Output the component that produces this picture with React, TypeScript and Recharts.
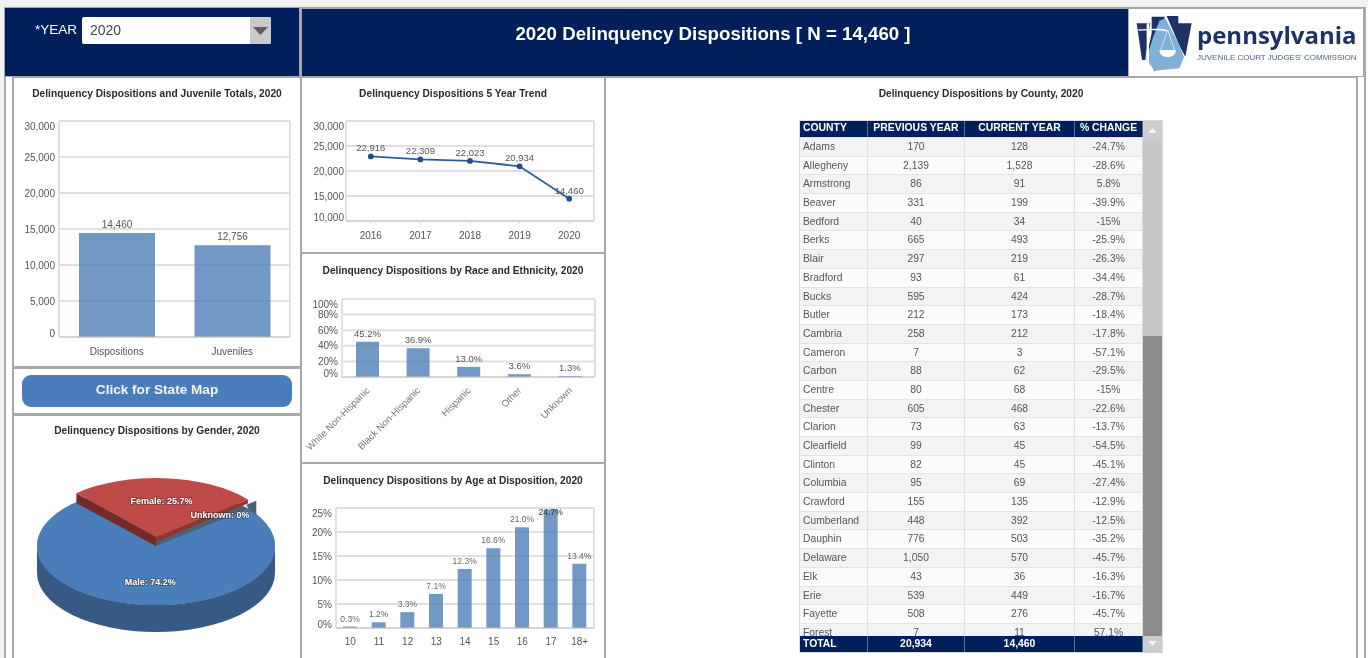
import React from "react";
import { BarChart, Bar, LineChart, Line, PieChart, Pie, XAxis, YAxis, CartesianGrid, LabelList } from "recharts";

const totalsCats = ["Dispositions", "Juveniles"];
const totalsVals = [14460, 12756];
const trendYears = ["2016", "2017", "2018", "2019", "2020"];
const trendVals = [22916, 22309, 22023, 20934, 14460];
const raceCats = ["White Non-Hispanic", "Black Non-Hispanic", "Hispanic", "Other", "Unknown"];
const raceVals = [45.2, 36.9, 13.0, 3.6, 1.3];
const ageCats = ["10", "11", "12", "13", "14", "15", "16", "17", "18+"];
const ageVals = [0.3, 1.2, 3.3, 7.1, 12.3, 16.6, 21.0, 24.7, 13.4];
const genderNames = ["Male", "Unknown", "Female"];
const genderVals = [74.2, 0.1, 25.7];
const genderLabels = ["74.2%", "0%", "25.7%"];
const counties = ["Adams","Allegheny","Armstrong","Beaver","Bedford","Berks","Blair","Bradford","Bucks","Butler","Cambria","Cameron","Carbon","Centre","Chester","Clarion","Clearfield","Clinton","Columbia","Crawford","Cumberland","Dauphin","Delaware","Elk","Erie","Fayette","Forest"];
const prevYear = ["170","2,139","86","331","40","665","297","93","595","212","258","7","88","80","605","73","99","82","95","155","448","776","1,050","43","539","508","7"];
const currYear = ["128","1,528","91","199","34","493","219","61","424","173","212","3","62","68","468","63","45","45","69","135","392","503","570","36","449","276","11"];
const pctChange = ["-24.7%","-28.6%","5.8%","-39.9%","-15%","-25.9%","-26.3%","-34.4%","-28.7%","-18.4%","-17.8%","-57.1%","-29.5%","-15%","-22.6%","-13.7%","-54.5%","-45.1%","-27.4%","-12.9%","-12.5%","-35.2%","-45.7%","-16.3%","-16.7%","-45.7%","57.1%"];
const headers = ["COUNTY", "PREVIOUS YEAR", "CURRENT YEAR", "% CHANGE"];
const totals = ["TOTAL", "20,934", "14,460", ""];

const FONT = "'Liberation Sans', Arial, sans-serif";
const NAVY = "#001f5b";
const BORDER = "#a8a8a8";
const BAR = "#4a7cb6";
const BAR_OP = 0.78;
const GRID = "#e0e0e0";
const colW = [68, 97, 110, 68];

const pct = (v: number) => v.toFixed(1) + "%";
const num = (v: number) => v.toLocaleString("en-US");

const box = (l: number, t: number, w: number, h: number): React.CSSProperties => ({ position: "absolute", left: l, top: t, width: w, height: h });

const frameLines = ({ offset }: any) => [offset.left, offset.left + offset.width];

function yTick(fmt: (v: number) => string, min: number, max: number, gap: number, fs = 10) {
  return (p: any) => {
    const v = p.payload.value;
    const dy = v === max ? 9 : v === min ? 0 : 3.5;
    return <text x={p.x + 8 - gap} y={p.y + dy} textAnchor="end" fontSize={fs} fill="#555" fontFamily={FONT}>{fmt(v)}</text>;
  };
}

function Title({ x, y, w, text }: { x: number; y: number; w: number; text: string }) {
  return <div style={{ position: "absolute", left: x, top: y, width: w, textAlign: "center", font: `bold 10.2px ${FONT}`, color: "#2a2a2a", lineHeight: "12px", whiteSpace: "nowrap" }}>{text}</div>;
}

const RaceTick = (p: any) => (
  <text transform={`translate(${p.x + 3},${p.y + 6}) rotate(-45)`} textAnchor="end" fontSize={9.6} fill="#777" fontFamily={FONT}>{p.payload.value}</text>
);

const AgeLabel = (p: any) => {
  const { x, y, width, value } = p;
  const ty = Math.max(y - 5, 51);
  return <text x={x + width / 2} y={ty} textAnchor="middle" fontSize={8.5} fill={ty !== y - 5 ? "#333" : "#666"} fontFamily={FONT}>{pct(value)}</text>;
};

const K = 0.496;
const pt = (cx: number, cy: number, r: number, deg: number) => {
  const a = (deg * Math.PI) / 180;
  return [cx + r * Math.cos(a), cy - r * K * Math.sin(a)];
};

const PieShape = (p: any) => {
  const { cx, cy, outerRadius: R, startAngle, endAngle, name } = p;
  const large = Math.abs(endAngle - startAngle) > 180 ? 1 : 0;
  const top = (ox: number, oy: number) => {
    const a = pt(cx + ox, cy + oy, R, startAngle);
    const b = pt(cx + ox, cy + oy, R, endAngle);
    return `M${cx + ox},${cy + oy} L${a[0]},${a[1]} A${R},${R * K} 0 ${large} 0 ${b[0]},${b[1]} Z`;
  };
  if (name === "Male") {
    const D = 27;
    return (
      <g>
        <path d={`M${cx - R},${cy} A${R},${R * K} 0 0 0 ${cx + R},${cy} L${cx + R},${cy + D} A${R},${R * K} 0 0 1 ${cx - R},${cy + D} Z`} fill="#375a85" />
        <ellipse cx={cx} cy={cy} rx={R} ry={R * K} fill="#4b6272" />
        <path d={top(0, 0)} fill="#4a7ebb" />
      </g>
    );
  }
  if (name === "Unknown") {
    const a = pt(cx + 8, cy - 8, R, startAngle);
    return <path d={`M${a[0] - 10},${a[1] + 4} L${a[0]},${a[1]} L${a[0]},${a[1] + 15} L${a[0] - 8},${a[1] + 8} Z`} fill="#4b6272" />;
  }
  const ox = 0, oy = -9;
  const a = pt(cx + ox, cy + oy, R, startAngle);
  const b = pt(cx + ox, cy + oy, R, endAngle);
  const ax = cx + ox, ay = cy + oy;
  return (
    <g>
      <path d={`M${ax},${ay} L${a[0]},${a[1]} L${a[0]},${a[1] + 4} L${ax},${ay + 5} Z`} fill="#8f3431" />
      <path d={`M${ax},${ay} L${b[0]},${b[1]} L${b[0]},${b[1] + 10} L${ax},${ay + 9} Z`} fill="#752a2a" />
      <path d={top(ox, oy)} fill="#be4b48" />
    </g>
  );
};

const PieLabel = (p: any) => {
  const { cx, cy, outerRadius: R, midAngle, index } = p;
  const frac = index === 1 ? 0.76 : 0.62;
  const oy = index === 2 ? -9 : index === 1 ? 1 : 0;
  const q = pt(cx, cy + oy, R * frac, index === 1 ? 45 : midAngle);
  return (
    <text x={q[0]} y={q[1] + 3} textAnchor="middle" fontSize={9} fontWeight="bold" fill="#fff" fontFamily={FONT}
      stroke="rgba(40,40,40,0.45)" strokeWidth={1.6} paintOrder="stroke">{genderNames[index]}: {genderLabels[index]}</text>
  );
};

const totalsData = totalsCats.map((name, i) => ({ name, value: totalsVals[i] }));
const trendData = trendYears.map((name, i) => ({ name, value: trendVals[i] }));
const raceData = raceCats.map((name, i) => ({ name, value: raceVals[i] }));
const ageData = ageCats.map((name, i) => ({ name, value: ageVals[i] }));
const genderData = genderNames.map((name, i) => ({ name, value: genderVals[i] }));

function Row({ cells, style, first }: { cells: string[]; style: React.CSSProperties; first?: boolean }) {
  return (
    <div style={{ display: "flex", ...style }}>
      {cells.map((c, i) => (
        <div key={i} style={{ width: colW[i], boxSizing: "border-box", borderRight: "1px solid " + (first ? "#5a6f98" : "#dedede"), textAlign: i === 0 ? "left" : "center", paddingLeft: i === 0 ? 3 : 0, whiteSpace: "nowrap", overflow: "hidden" }}>{c}</div>
      ))}
    </div>
  );
}

function CountyTable() {
  const width = colW.reduce((a, b) => a + b, 0);
  return (
    <>
      <div style={{ ...box(799, 120, 364, 533), background: "#dcdcdc" }} />
      <Row first cells={headers} style={{ ...box(800, 121, width, 16), background: NAVY, color: "#fff", font: `bold 10.4px ${FONT}`, lineHeight: "14px" }} />
      <div style={{ ...box(800, 138, width, 498), overflow: "hidden", background: "#fff" }}>
        {counties.map((c, i) => (
          <Row key={c} cells={[c, prevYear[i], currYear[i], pctChange[i]]}
            style={{ height: 18.69, boxSizing: "border-box", borderBottom: "1px solid #e4e4e4", background: i % 2 ? "#fbfbfb" : "#f3f3f3", color: "#555", font: `10.3px ${FONT}`, lineHeight: "17px" }} />
        ))}
      </div>
      <Row first cells={totals} style={{ ...box(800, 636, width, 16), background: NAVY, color: "#fff", font: `bold 10.4px ${FONT}`, lineHeight: "15px" }} />
      <div style={{ ...box(1143, 121, 19, 19), background: "#cdcdcd" }}>
        <svg width="19" height="19"><polygon points="5,12 14,12 9.5,7" fill="#f4f4f4" /></svg>
      </div>
      <div style={{ ...box(1143, 140, 19, 196), background: "#c8c8c8" }} />
      <div style={{ ...box(1143, 336, 19, 300), background: "#8b8b8b" }} />
      <div style={{ ...box(1143, 636, 19, 17), background: "#cdcdcd" }}>
        <svg width="19" height="17"><polygon points="5,5 14,5 9.5,10" fill="#f4f4f4" /></svg>
      </div>
    </>
  );
}

function Logo() {
  return (
    <svg style={{ position: "absolute", left: 1129, top: 9, overflow: "visible" }} width="234" height="67">
      <g transform="translate(-9,-9) scale(0.3333)">
        <polygon points="95,50 135,50 112,100 105,215 80,170 95,100" fill="#1f3264" />
        <polygon points="140,48 175,48 175,70 215,70 196,170 180,140" fill="#1f3264" />
        <polygon points="118,62 136,55 178,135 192,172 178,205 105,212 78,178 100,110" fill="#7fb1d8" />
        <polygon points="50,70 90,70 76,180 66,180" fill="#1f3264" />
        <path d="M55,90 C90,90 120,85 140,92" stroke="#fff" strokeWidth="4" fill="none" />
        <rect x="80" y="70" width="7" height="125" fill="#fff" />
        <path d="M118,150 h50 a25,22 0 0 1 -50,0 Z" fill="#fff" />
        <path d="M143,90 L122,150 M143,90 L164,150" stroke="#fff" strokeWidth="2" />
      </g>
      <text x="68" y="35" fontFamily="'Open Sans', sans-serif" fontWeight="bold" fontSize="24" fill="#1f3264">pennsylvania</text>
      <text x="68" y="51" fontFamily={FONT} fontSize="8" fill="#4d5f85">JUVENILE COURT JUDGES' COMMISSION</text>
    </svg>
  );
}

function Panel({ l, t, w, h }: { l: number; t: number; w: number; h: number }) {
  return <div style={{ ...box(l, t, w, h), boxSizing: "border-box", border: `2px solid ${BORDER}`, background: "#fff" }} />;
}

export default function App() {
  return (
    <div style={{ position: "fixed", left: 0, top: 0, width: 1368, height: 658, overflow: "hidden", background: "#fff", fontFamily: FONT, filter: "blur(0.6px)" }}>
      <div style={{ ...box(0, 0, 1368, 7), background: "#f2f2f2" }} />
      <div style={{ ...box(0, 0, 4, 658), background: "#f2f2f2" }} />
      <div style={{ ...box(4, 7, 1362, 70), background: BORDER }} />
      <div style={{ ...box(5, 8, 294, 68), background: NAVY }} />
      <div style={{ ...box(302, 9, 826, 67), background: NAVY }} />
      <div style={{ ...box(1129, 9, 234, 67), background: "#fff" }} />
      <Logo />

      <div style={{ position: "absolute", left: 35, top: 22, color: "#fff", font: `13.5px ${FONT}` }}>*YEAR</div>
      <div style={{ ...box(82, 17, 189, 27), background: "#fff", borderRadius: 2 }} />
      <div style={{ position: "absolute", left: 90, top: 22, color: "#444", font: `14px ${FONT}` }}>2020</div>
      <div style={{ ...box(250, 17, 21, 27), background: "#c9c9c9", borderRadius: "0 2px 2px 0" }}>
        <svg width="21" height="27"><polygon points="3,10 18,10 10.5,18" fill="#5f5f5f" /></svg>
      </div>
      <div style={{ position: "absolute", left: 300, top: 23, width: 826, textAlign: "center", color: "#fff", font: `bold 18.7px ${FONT}`, whiteSpace: "nowrap" }}>2020 Delinquency Dispositions [ N = 14,460 ]</div>

      <div style={{ ...box(4, 77, 2, 581), background: BORDER }} />
      <div style={{ ...box(1364, 77, 2, 581), background: BORDER }} />
      <Panel l={12} t={76} w={290} h={292} />
      <Panel l={12} t={367} w={290} h={48} />
      <Panel l={12} t={414} w={290} h={260} />
      <Panel l={300} t={76} w={306} h={178} />
      <Panel l={300} t={252} w={306} h={212} />
      <Panel l={300} t={462} w={306} h={212} />
      <Panel l={604} t={76} w={754} h={600} />

      <Title x={14} y={88} w={286} text="Delinquency Dispositions and Juvenile Totals, 2020" />
      <Title x={302} y={88} w={302} text="Delinquency Dispositions 5 Year Trend" />
      <Title x={302} y={265} w={302} text="Delinquency Dispositions by Race and Ethnicity, 2020" />
      <Title x={302} y={475} w={302} text="Delinquency Dispositions by Age at Disposition, 2020" />
      <Title x={14} y={425} w={286} text="Delinquency Dispositions by Gender, 2020" />
      <Title x={606} y={88} w={750} text="Delinquency Dispositions by County, 2020" />

      <div style={{ ...box(22, 375, 270, 32), background: "#4a7ebb", borderRadius: 9, color: "#f4f4f4", font: `bold 13.6px ${FONT}`, lineHeight: "30px", textAlign: "center" }}>Click for State Map</div>

      <div style={box(13, 78, 287, 289)}>
        <BarChart width={287} height={289} data={totalsData} margin={{ left: 0, right: 10, top: 43, bottom: 0 }} barSize={76}>
          <CartesianGrid stroke={GRID} strokeWidth={2} verticalCoordinatesGenerator={frameLines} />
          <XAxis dataKey="name" height={30} axisLine={{ stroke: "#c8c8c8" }} tickLine={false} tick={{ fontSize: 10, fill: "#555", fontFamily: FONT }} tickMargin={5} />
          <YAxis width={46} domain={[0, 30000]} ticks={[0, 5000, 10000, 15000, 20000, 25000, 30000]} interval={0} axisLine={false} tickLine={false} tick={yTick(num, 0, 30000, 4)} />
          <Bar dataKey="value" fill={BAR} fillOpacity={BAR_OP} isAnimationActive={false}>
            <LabelList dataKey="value" position="top" formatter={(v: any) => num(v)} style={{ fontSize: 10, fill: "#555", fontFamily: FONT }} />
          </Bar>
        </BarChart>
      </div>

      <div style={box(302, 78, 302, 174)}>
        <LineChart width={302} height={174} data={trendData} margin={{ left: 0, right: 10, top: 43, bottom: 0 }}>
          <CartesianGrid stroke={GRID} strokeWidth={2} verticalCoordinatesGenerator={frameLines} />
          <XAxis dataKey="name" scale="band" height={31} axisLine={{ stroke: "#c8c8c8" }} tickLine={{ stroke: "#ddd" }} tickSize={3} tick={{ fontSize: 10, fill: "#555", fontFamily: FONT }} tickMargin={8} />
          <YAxis width={44} domain={[10000, 30000]} ticks={[10000, 15000, 20000, 25000, 30000]} interval={0} axisLine={false} tickLine={false} tick={yTick(num, 10000, 30000, 2)} />
          <Line dataKey="value" stroke="#2f5b93" strokeWidth={1.8} dot={{ r: 2, fill: "#1f4e8c", stroke: "#1f4e8c" }} isAnimationActive={false}>
            <LabelList dataKey="value" position="top" formatter={(v: any) => num(v)} style={{ fontSize: 9.5, fill: "#555", fontFamily: FONT }} />
          </Line>
        </LineChart>
      </div>

      <div style={box(302, 254, 302, 208)}>
        <BarChart width={302} height={208} data={raceData} margin={{ left: 0, right: 9, top: 45, bottom: 0 }} barSize={23}>
          <CartesianGrid stroke={GRID} strokeWidth={2} verticalCoordinatesGenerator={frameLines} />
          <XAxis dataKey="name" height={85} interval={0} axisLine={{ stroke: "#c8c8c8" }} tickLine={false} tick={RaceTick} />
          <YAxis width={40} domain={[0, 100]} ticks={[0, 20, 40, 60, 80, 100]} interval={0} axisLine={false} tickLine={false} tick={yTick((v) => v + "%", 0, 100, 4)} />
          <Bar dataKey="value" fill={BAR} fillOpacity={BAR_OP} isAnimationActive={false}>
            <LabelList dataKey="value" position="top" formatter={(v: any) => pct(v)} style={{ fontSize: 9.5, fill: "#555", fontFamily: FONT }} />
          </Bar>
        </BarChart>
      </div>

      <div style={box(302, 464, 302, 194)}>
        <BarChart width={302} height={194} data={ageData} margin={{ left: 0, right: 10, top: 44, bottom: 0 }} barSize={14}>
          <CartesianGrid stroke={GRID} strokeWidth={2} verticalCoordinatesGenerator={frameLines} />
          <XAxis dataKey="name" height={30} interval={0} axisLine={{ stroke: "#c8c8c8" }} tickLine={false} tick={{ fontSize: 10, fill: "#555", fontFamily: FONT }} tickMargin={4} />
          <YAxis width={34} domain={[0, 25]} ticks={[0, 5, 10, 15, 20, 25]} interval={0} axisLine={false} tickLine={false} tick={yTick((v) => v + "%", 0, 25, 4)} />
          <Bar dataKey="value" fill={BAR} fillOpacity={BAR_OP} isAnimationActive={false}>
            <LabelList dataKey="value" content={AgeLabel} />
          </Bar>
        </BarChart>
      </div>

      <div style={box(14, 416, 286, 242)}>
        <PieChart width={286} height={242} margin={{ left: 0, right: 0, top: 0, bottom: 0 }}>
          <Pie data={genderData} dataKey="value" nameKey="name" cx={142} cy={130} outerRadius={119} startAngle={132} endAngle={492}
            stroke="none" isAnimationActive={false} shape={PieShape} label={PieLabel} labelLine={false} />
        </PieChart>
      </div>

      <CountyTable />
    </div>
  );
}
